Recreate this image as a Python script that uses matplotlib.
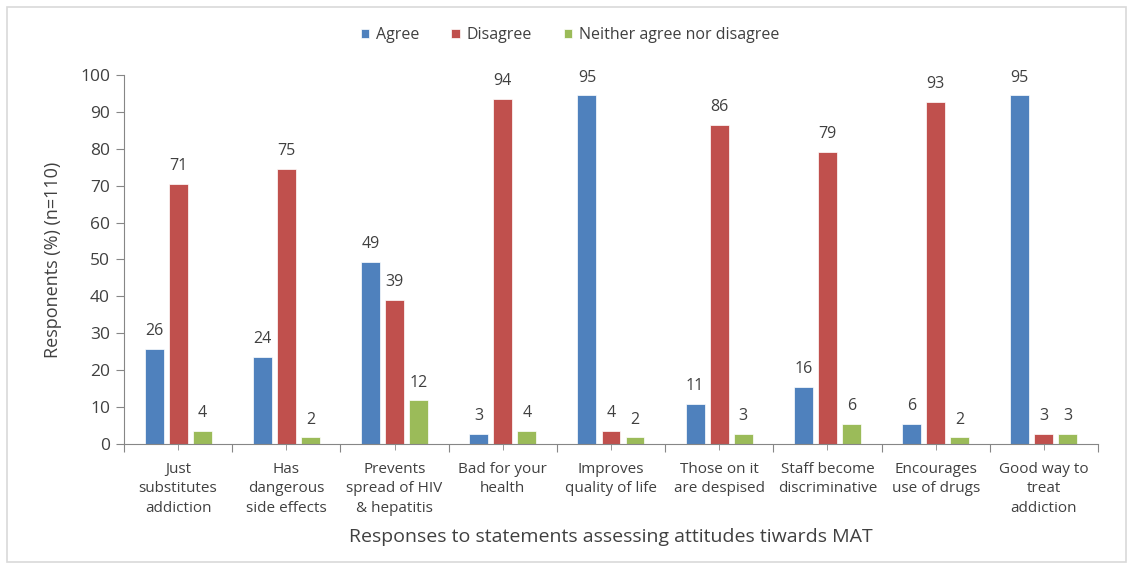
import numpy as np
import matplotlib.pyplot as plt
from matplotlib.patches import Rectangle

plt.rcParams['font.family'] = ['Open Sans', 'DejaVu Sans']

# statements along the x axis
statements = ["Just\nsubstitutes\naddiction", "Has\ndangerous\nside effects",
              "Prevents\nspread of HIV\n& hepatitis", "Bad for your\nhealth",
              "Improves\nquality of life", "Those on it\nare despised",
              "Staff become\ndiscriminative", "Encourages\nuse of drugs",
              "Good way to\ntreat\naddiction"]

# bar heights (%)
agree = [25.8, 23.7, 49.3, 2.7, 94.5, 10.9, 15.5, 5.4, 94.5]
disagree = [70.5, 74.5, 39.0, 93.6, 3.6, 86.4, 79.1, 92.7, 2.7]
neither = [3.6, 1.8, 11.8, 3.6, 1.8, 2.7, 5.5, 1.8, 2.7]

# data labels as printed on the chart
agree_lbl = [26, 24, 49, 3, 95, 11, 16, 6, 95]
disagree_lbl = [71, 75, 39, 94, 4, 86, 79, 93, 3]
neither_lbl = [4, 2, 12, 4, 2, 3, 6, 2, 3]

series = [("Agree", agree, agree_lbl, "#4f81bd"),
          ("Disagree", disagree, disagree_lbl, "#c0504d"),
          ("Neither agree nor disagree", neither, neither_lbl, "#9bbb59")]

txt = "#404040"
fig = plt.figure(figsize=(11.33, 5.69), dpi=100)
ax = fig.add_axes([0.1094, 0.2197, 0.8597, 0.6485])

x = np.arange(len(statements))
width = 0.175
step = 0.222
for i, (name, vals, lbls, col) in enumerate(series):
    pos = x + (i - 1) * step
    ax.bar(pos, vals, width, color=col, label=name, edgecolor="white", linewidth=0.5)
    for p, v, l in zip(pos, vals, lbls):
        ax.annotate(str(l), (p, v), xytext=(0, 7), textcoords="offset points",
                    ha="center", va="bottom", fontsize=11.5, color=txt)

ax.set_xlim(-0.5, len(statements) - 0.5)
ax.set_ylim(0, 100)
ax.set_yticks(range(0, 101, 10))
ax.set_xticks(np.arange(-0.5, len(statements), 1.0))
ax.set_xticklabels([])
ax.set_xticks(x, minor=True)
ax.set_xticklabels(statements, minor=True, fontsize=11, color=txt, linespacing=1.4)

for s in ["top", "right"]:
    ax.spines[s].set_visible(False)
for s in ["left", "bottom"]:
    ax.spines[s].set_color("#868686")
ax.tick_params(axis="y", colors="#868686", labelcolor=txt, labelsize=12.5, length=6,
               direction="out", pad=4)
ax.tick_params(axis="x", which="major", colors="#868686", length=6, direction="out")
ax.tick_params(axis="x", which="minor", colors="#868686", labelcolor=txt, length=4, pad=9,
               direction="out")

ax.set_ylabel("Responents (%) (n=110)", fontsize=13, color=txt, labelpad=13)
ax.set_xlabel("Responses to statements assessing attitudes tiwards MAT", fontsize=14,
              color=txt, labelpad=9)

fig.legend(loc="center", bbox_to_anchor=(0.503, 0.938), ncol=3, frameon=False,
           fontsize=11.5, handlelength=0.55, handleheight=0.55, handletextpad=0.4,
           columnspacing=2.0, labelcolor=txt)

fig.patches.append(Rectangle((0.006, 0.012), 0.988, 0.976, transform=fig.transFigure,
                             fill=False, edgecolor="#d9d9d9", linewidth=1.2))

fig.savefig("out.png", dpi=100)
